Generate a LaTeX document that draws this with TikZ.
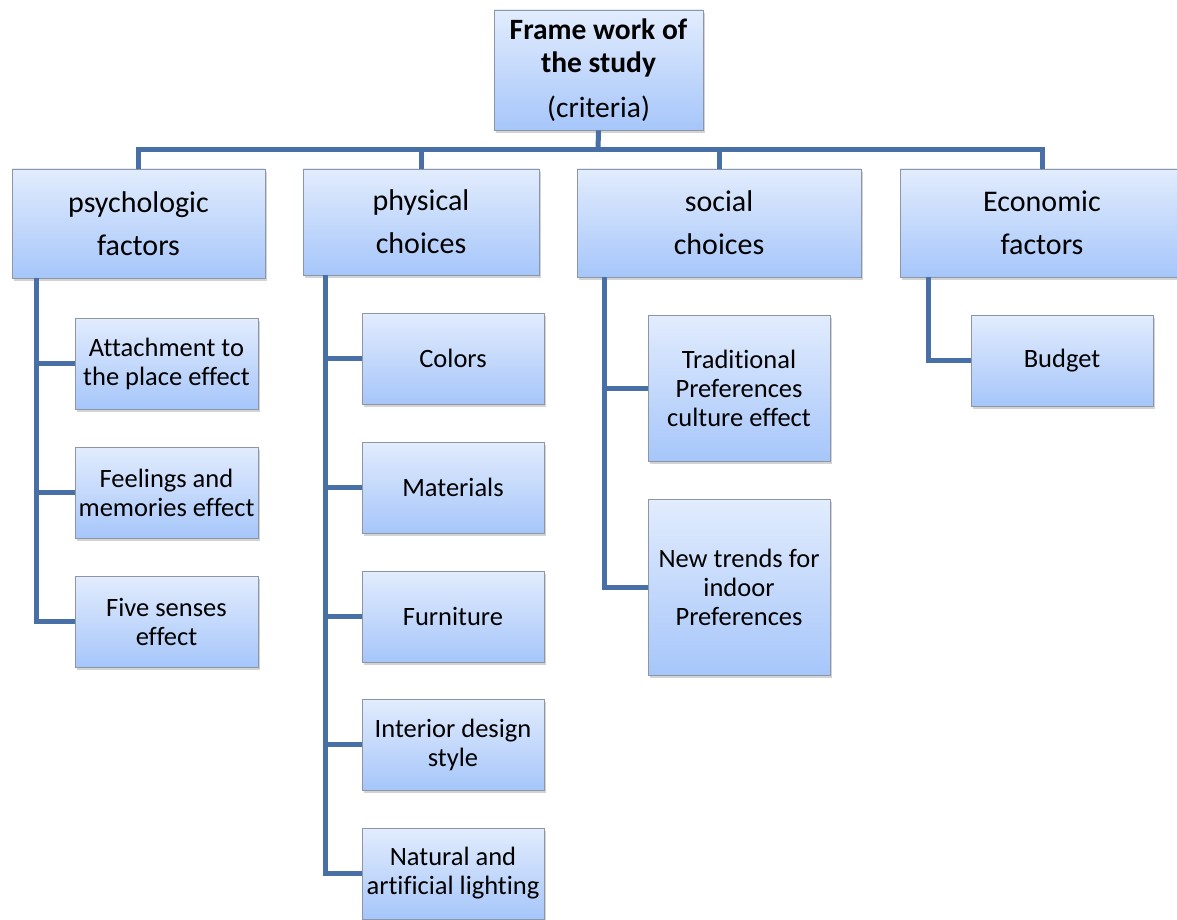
\documentclass[tikz,border=0pt]{standalone}
\usepackage{fontspec}
\setmainfont[Ligatures=NoCommon]{Carlito}
\usetikzlibrary{shadows}
\definecolor{boxtop}{RGB}{226,236,253}
\definecolor{boxbot}{RGB}{166,198,250}
\definecolor{boxline}{RGB}{140,150,165}
\definecolor{conn}{RGB}{72,112,166}
\tikzset{
  box/.style={draw=boxline, line width=0.8pt, top color=boxtop, bottom color=boxbot,
    drop shadow={opacity=0.35, shadow xshift=2pt, shadow yshift=-3pt},
    align=center, inner sep=0pt, text=black},
  headbox/.style={box, font=\fontsize{29.5}{33}\selectfont},
  lvlbox/.style={box, font=\fontsize{30}{43}\selectfont},
  subbox/.style={box, font=\fontsize{26.5}{29}\selectfont},
  link/.style={draw=conn, line width=5pt},
}
\begin{document}
\begin{tikzpicture}[x=1pt,y=-1pt]
\useasboundingbox (0,0) rectangle (1177,920);
% head
\node[headbox, minimum width=209pt, minimum height=120pt] (top) at (598.5,70) {\textbf{Frame work of}\\\textbf{the study}\\[12pt](criteria)};
% level 1
\node[lvlbox, minimum width=253pt, minimum height=109pt] (psy) at (138.5,223.5) {psychologic\\factors};
\node[lvlbox, minimum width=236pt, minimum height=106pt] (phy) at (421,222) {physical\\choices};
\node[lvlbox, minimum width=284pt, minimum height=108pt] (soc) at (719,223) {social\\choices};
\node[lvlbox, minimum width=284pt, minimum height=108pt] (eco) at (1042,223) {Economic\\factors};
% psych children
\node[subbox, minimum width=183pt, minimum height=91pt] (p1) at (166.5,363.5) {Attachment to\\the place effect};
\node[subbox, minimum width=183pt, minimum height=91pt] (p2) at (166.5,492.5) {Feelings and\\memories effect};
\node[subbox, minimum width=183pt, minimum height=91pt] (p3) at (166.5,621.5) {Five senses\\effect};
% physical children
\node[subbox, minimum width=182pt, minimum height=91pt] (h1) at (453,358.5) {Colors};
\node[subbox, minimum width=182pt, minimum height=91pt] (h2) at (453,487.5) {Materials};
\node[subbox, minimum width=182pt, minimum height=91pt] (h3) at (453,616.5) {Furniture};
\node[subbox, minimum width=182pt, minimum height=91pt] (h4) at (453,744.5) {Interior design\\style};
\node[subbox, minimum width=182pt, minimum height=91pt] (h5) at (453,873.5) {Natural and\\artificial lighting};
% social children
\node[subbox, minimum width=182pt, minimum height=146pt] (s1) at (739,388) {Traditional\\Preferences\\culture effect};
\node[subbox, minimum width=182pt, minimum height=176pt] (s2) at (739,587) {New trends for\\indoor\\Preferences};
% economic child
\node[subbox, minimum width=182pt, minimum height=91pt] (e1) at (1062,360.5) {Budget};
% connectors
\coordinate (bus) at (598,150);
\draw[link] (top.south) -- (bus);
\draw[link] (psy.north) |- (bus);
\draw[link] (eco.north) |- (bus);
\draw[link] (phy.north) -- (phy.north |- bus);
\draw[link] (soc.north) -- (soc.north |- bus);
\coordinate (psyrail) at ([xshift=25pt]psy.south west);
\coordinate (phyrail) at ([xshift=23pt]phy.south west);
\coordinate (socrail) at ([xshift=28pt]soc.south west);
\coordinate (ecorail) at ([xshift=29pt]eco.south west);
\draw[link] (psyrail) |- (p3.west);
\draw[link] (psyrail |- p1.west) -- (p1.west);
\draw[link] (psyrail |- p2.west) -- (p2.west);
\draw[link] (phyrail) |- (h5.west);
\foreach \n in {h1,h2,h3,h4} \draw[link] (phyrail |- \n.west) -- (\n.west);
\draw[link] (socrail) |- (s2.west);
\draw[link] (socrail |- s1.west) -- (s1.west);
\draw[link] (ecorail) |- (e1.west);
\end{tikzpicture}
\end{document}
